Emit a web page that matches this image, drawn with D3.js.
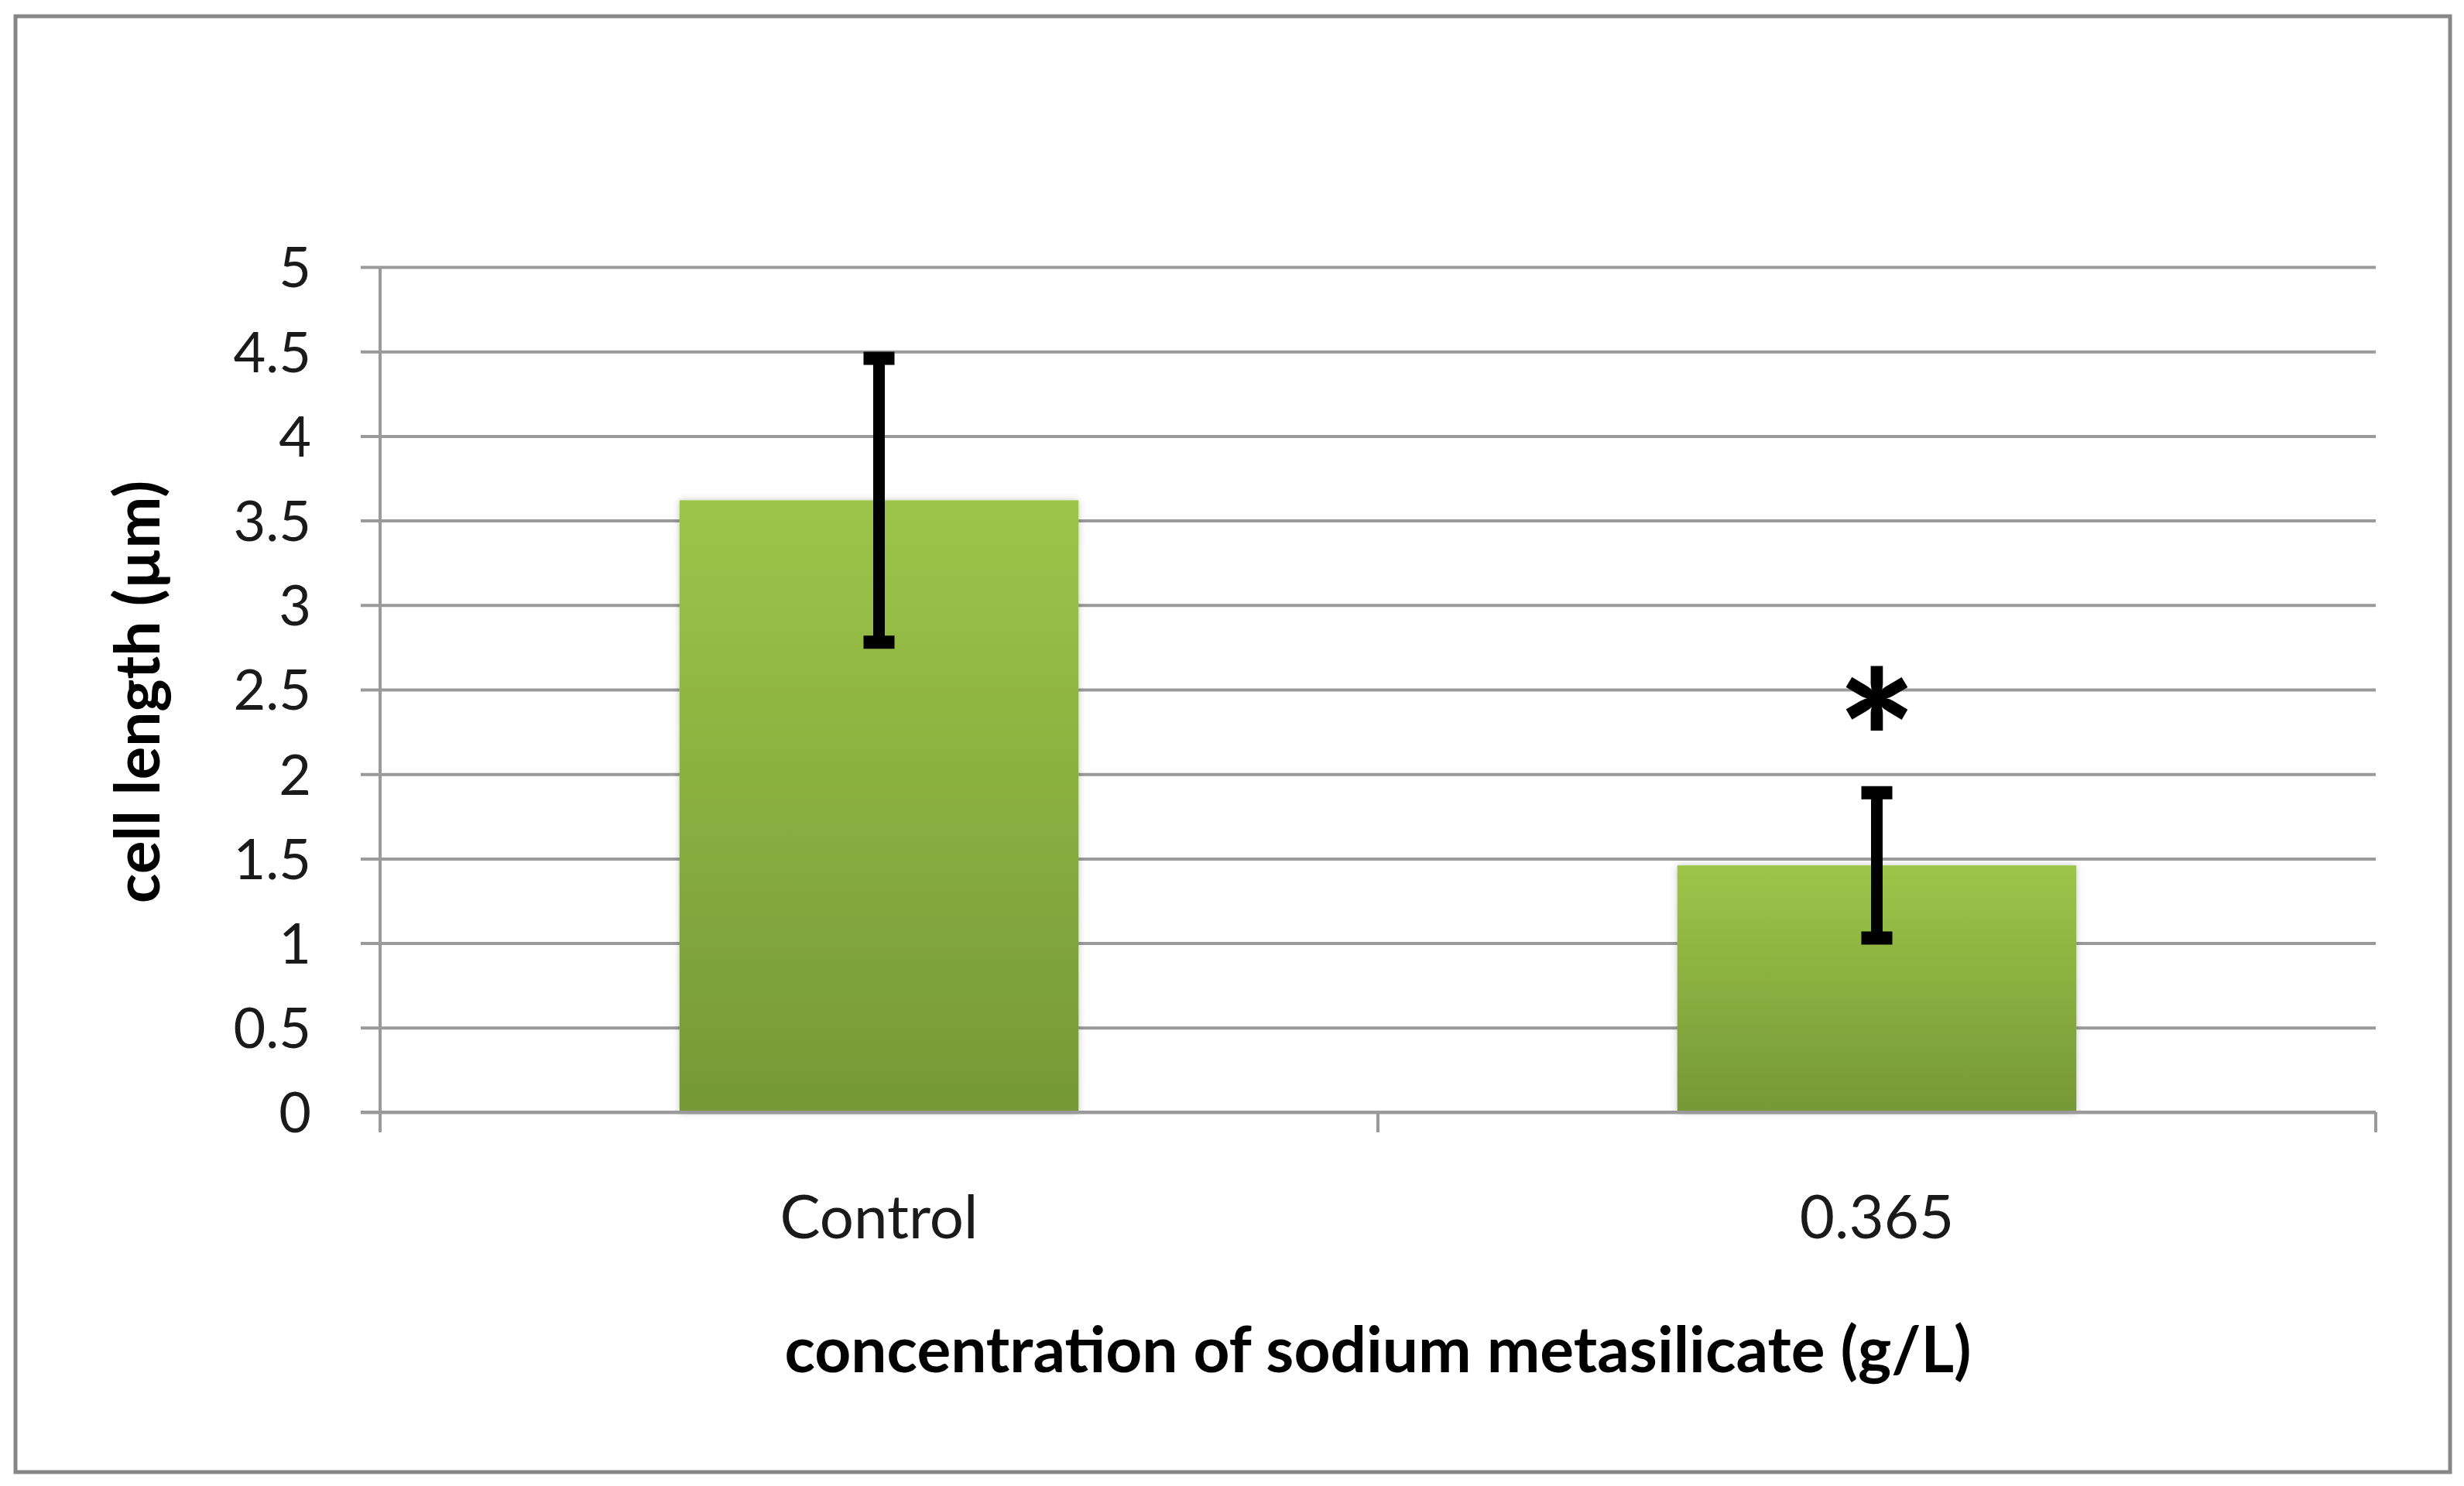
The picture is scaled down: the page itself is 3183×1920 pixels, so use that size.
<!DOCTYPE html>
<html>
<head>
<meta charset="utf-8">
<script src="https://cdn.jsdelivr.net/npm/d3@7"></script>
<style>
  html, body { margin: 0; padding: 0; background: #ffffff; }
  svg { display: block; }
</style>
</head>
<body>
<svg id="chart" width="3183" height="1920"></svg>
<script>
// ---- data ----
const categories = ["Control", "0.365"];
const meanValues = [3.62, 1.46];
const errorValues = [0.84, 0.43];
const significance = ["", "*"];
const yTickValues = [0, 0.5, 1, 1.5, 2, 2.5, 3, 3.5, 4, 4.5, 5];
const yTickLabels = ["0", "0.5", "1", "1.5", "2", "2.5", "3", "3.5", "4", "4.5", "5"];
const xTitle = "concentration of sodium metasilicate (g/L)";
const yTitle = "cell length (µm)";

// ---- layout ----
const svg = d3.select("#chart");
const plot = { left: 491, right: 3069, top: 345, bottom: 1437 };
const tickLen = 25;
const gridColor = "#9a9a9a";
const font = "Lato, 'Open Sans', sans-serif";

const defs = svg.append("defs");
const grad = defs.append("linearGradient")
  .attr("id", "barGrad").attr("x1", 0).attr("y1", 0).attr("x2", 0).attr("y2", 1);
grad.append("stop").attr("offset", "0%").attr("stop-color", "#9dc548");
grad.append("stop").attr("offset", "100%").attr("stop-color", "#769837");
const shadow = defs.append("filter").attr("id", "barShadow")
  .attr("x", "-10%").attr("y", "-10%").attr("width", "120%").attr("height", "120%");
shadow.append("feDropShadow").attr("dx", 0).attr("dy", 0)
  .attr("stdDeviation", 5).attr("flood-color", "#000").attr("flood-opacity", 0.22);

// outer border
svg.append("rect")
  .attr("x", 20).attr("y", 21).attr("width", 3145).attr("height", 1881)
  .attr("fill", "#ffffff").attr("stroke", "#878787").attr("stroke-width", 5);

// scales
const y = d3.scaleLinear().domain([0, 5]).range([plot.bottom, plot.top]);
const x = d3.scaleBand().domain(categories)
  .range([plot.left, plot.right]).paddingInner(0.6).paddingOuter(0.3);

// gridlines + left ticks
const grid = svg.append("g")
  .attr("transform", `translate(${plot.left - tickLen},0)`)
  .call(d3.axisLeft(y).tickValues(yTickValues)
    .tickSize(-(plot.right - plot.left + tickLen)).tickFormat(""));
grid.select(".domain").remove();
grid.selectAll(".tick line").attr("stroke", gridColor).attr("stroke-width", 4);

// y tick labels
const yLab = svg.append("g")
  .attr("transform", `translate(${plot.left},0)`)
  .call(d3.axisLeft(y).tickValues(yTickValues).tickSize(0).tickPadding(89)
    .tickFormat((d, i) => yTickLabels[i]));
yLab.select(".domain").remove();
yLab.selectAll("text")
  .attr("font-family", font).attr("font-size", 72).attr("fill", "#1a1a1a")
  .attr("dy", "0.36em");

// y axis line
svg.append("line")
  .attr("x1", plot.left).attr("x2", plot.left)
  .attr("y1", plot.top).attr("y2", plot.bottom + tickLen + 1)
  .attr("stroke", gridColor).attr("stroke-width", 4);

// x axis ticks at category boundaries
const boundaries = d3.range(categories.length + 1).map(i => plot.left + i * (plot.right - plot.left) / categories.length);
svg.append("g").selectAll("line").data(boundaries).join("line")
  .attr("x1", d => d).attr("x2", d => d)
  .attr("y1", plot.bottom).attr("y2", plot.bottom + tickLen + 1)
  .attr("stroke", gridColor).attr("stroke-width", 4);

// x category labels
const xAx = svg.append("g")
  .attr("transform", `translate(0,${plot.bottom})`)
  .call(d3.axisBottom(x).tickSize(0).tickPadding(0));
xAx.select(".domain").remove();
xAx.selectAll("text")
  .attr("font-family", font).attr("font-size", 78).attr("fill", "#1a1a1a")
  .attr("dy", null).attr("y", 163);

// bars
svg.append("g").selectAll("rect").data(categories).join("rect")
  .attr("x", d => x(d)).attr("width", x.bandwidth())
  .attr("y", (d, i) => y(meanValues[i]))
  .attr("height", (d, i) => y(0) - y(meanValues[i]))
  .attr("fill", "url(#barGrad)")
  .attr("filter", "url(#barShadow)");

// redraw baseline above bars
svg.append("line")
  .attr("x1", plot.left - tickLen).attr("x2", plot.right)
  .attr("y1", plot.bottom).attr("y2", plot.bottom)
  .attr("stroke", gridColor).attr("stroke-width", 4);

// error bars
const eb = svg.append("g");
categories.forEach((c, i) => {
  const cx = x(c) + x.bandwidth() / 2;
  const hi = y(meanValues[i] + errorValues[i]);
  const lo = y(meanValues[i] - errorValues[i]);
  eb.append("line").attr("x1", cx).attr("x2", cx).attr("y1", hi).attr("y2", lo)
    .attr("stroke", "#000").attr("stroke-width", 15);
  [hi, lo].forEach(v => {
    eb.append("line").attr("x1", cx - 20).attr("x2", cx + 20).attr("y1", v).attr("y2", v)
      .attr("stroke", "#000").attr("stroke-width", 17);
  });
});

// significance marks
svg.append("g").selectAll("text").data(categories).join("text")
  .attr("x", d => x(d) + x.bandwidth() / 2)
  .attr("y", (d, i) => y(meanValues[i] + errorValues[i]) + 20)
  .attr("text-anchor", "middle")
  .attr("font-family", font).attr("font-weight", 900).attr("font-size", 240)
  .attr("fill", "#000")
  .text((d, i) => significance[i]);

// axis titles
svg.append("text")
  .attr("x", (plot.left + plot.right) / 2).attr("y", 1773)
  .attr("text-anchor", "middle")
  .attr("font-family", font).attr("font-weight", 700).attr("font-size", 82)
  .attr("fill", "#000")
  .text(xTitle);

svg.append("text")
  .attr("transform", `translate(206,894) rotate(-90)`)
  .attr("text-anchor", "middle")
  .attr("font-family", font).attr("font-weight", 700).attr("font-size", 80)
  .attr("fill", "#000")
  .text(yTitle);
</script>
</body>
</html>
